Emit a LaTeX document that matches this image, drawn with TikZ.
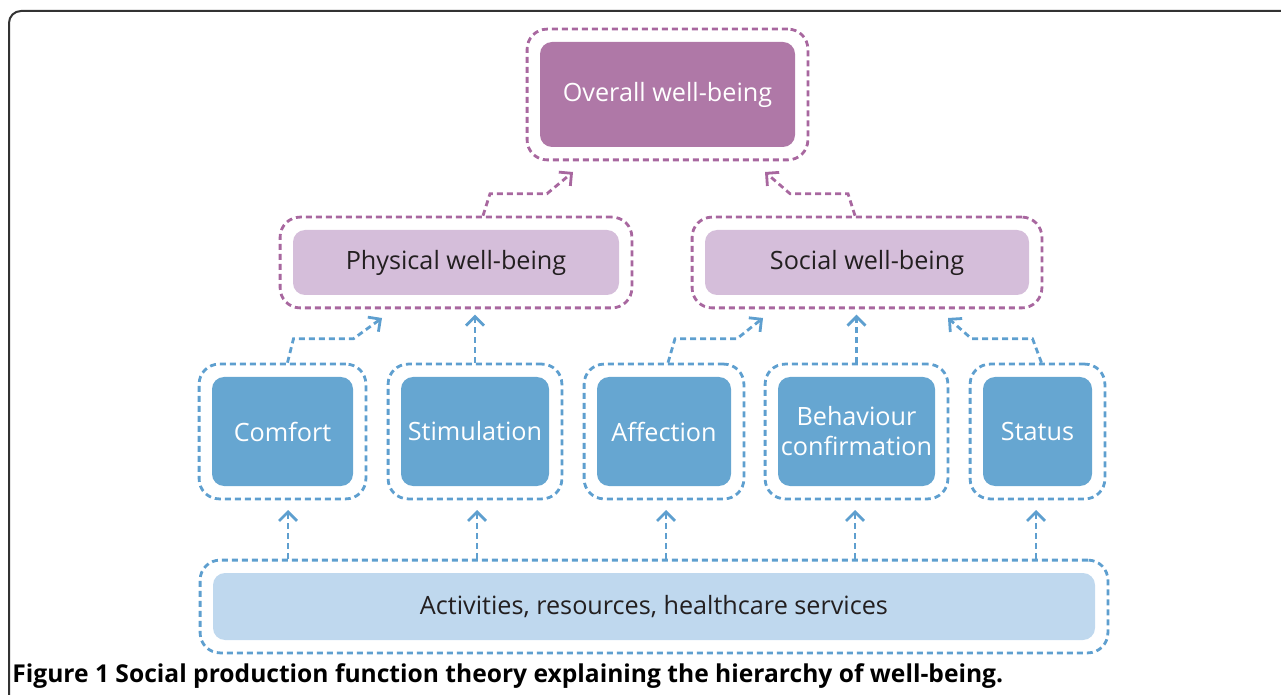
\documentclass[tikz,border=0pt]{standalone}
\usepackage{fontspec}
\setmainfont{Open Sans}
\usetikzlibrary{arrows.meta,fit}

\definecolor{plumdark}{HTML}{AF78A7}
\definecolor{plumlight}{HTML}{D5BEDA}
\definecolor{plumline}{HTML}{A8679F}
\definecolor{bluedark}{HTML}{66A6D1}
\definecolor{bluelight}{HTML}{BFD8EE}
\definecolor{blueline}{HTML}{5E9FCF}
\definecolor{inkdark}{HTML}{231F20}

\tikzset{
  box/.style={rounded corners=6pt,inner sep=0pt,align=center,font=\fontsize{12.6}{15}\selectfont},
  darkbox/.style={box,fill=#1,text=white},
  lightbox/.style={box,fill=#1,text=inkdark},
  frame/.style={draw=#1,line width=1.4pt,dash pattern=on 3pt off 2pt,rounded corners=10pt,inner sep=6.25pt},
  plink/.style={draw=plumline,line width=1.4pt,dash pattern=on 3pt off 2pt,-{Straight Barb[length=4.5pt,width=9pt]}},
  blink/.style={draw=blueline,line width=1.4pt,dash pattern=on 3pt off 2pt,-{Straight Barb[length=4.5pt,width=9pt]}}
}

\begin{document}
\begin{tikzpicture}[x=0.5pt,y=-0.5pt]
  \useasboundingbox (0,0) rectangle (1281,695);
  \draw[line width=1pt,draw=black!80,rounded corners=6pt] (9,760) -- (9,11) -- (1340,11);

  %% top
  \node[darkbox=plumdark,minimum width=127.5pt,minimum height=52.5pt] (overall) at (667.5,94.5) {Overall well-being};
  \node[frame=plumline,fit=(overall)] (overallF) {};

  %% middle
  \node[lightbox=plumlight,minimum width=163pt,minimum height=32.5pt] (phys) at (456,262.5) {Physical well-being};
  \node[lightbox=plumlight,minimum width=162pt,minimum height=32.5pt] (soc) at (867,262.5) {Social well-being};
  \node[frame=plumline,fit=(phys)] (physF) {};
  \node[frame=plumline,fit=(soc)] (socF) {};

  %% needs
  \node[darkbox=bluedark,minimum width=70.5pt,minimum height=54.5pt] (comfort) at (282.5,431.5) {Comfort};
  \node[darkbox=bluedark,minimum width=74pt,minimum height=54.5pt] (stim) at (475,431.5) {Stimulation};
  \node[darkbox=bluedark,minimum width=67pt,minimum height=54.5pt] (affect) at (664,431.5) {Affection};
  \node[darkbox=bluedark,minimum width=78.5pt,minimum height=54.5pt] (behav) at (856.5,431.5) {Behaviour\\confirmation};
  \node[darkbox=bluedark,minimum width=54.5pt,minimum height=54.5pt] (status) at (1037.5,431.5) {Status};
  \foreach \n in {comfort,stim,affect,behav,status}
    \node[frame=blueline,fit=(\n)] (\n F) {};

  %% bottom
  \node[lightbox=bluelight,minimum width=441pt,minimum height=33.5pt] (act) at (654,606.5) {Activities, resources, healthcare services};
  \node[frame=blueline,fit=(act)] (actF) {};

  %% arrow tips
  \coordinate (tOL) at (573,172);
  \coordinate (tOR) at (765,172);
  \coordinate (tPL) at (382,318);
  \coordinate (tSL) at (763,318);
  \coordinate (tSR) at (948,318);

  %% links up to overall
  \draw[plink] ([shift={(27,0)}]physF.north) -- ++(7,-22) -- ++(57,0) -- (tOL);
  \draw[plink] ([shift={(-12,0)}]socF.north) -- ++(-7,-22) -- ++(-58,0) -- (tOR);

  %% links up to physical / social
  \draw[blink] ([shift={(5,0)}]comfortF.north) -- ++(6,-24) -- ++(60,0) -- (tPL);
  \draw[blink] (stimF.north) -- ++(0,-48);
  \draw[blink] ([shift={(4,0)}]affectF.north) -- ++(7,-24) -- ++(62,0) -- (tSL);
  \draw[blink] (behavF.north) -- ++(0,-48);
  \draw[blink] ([shift={(4,0)}]statusF.north) -- ++(-9,-24) -- ++(-61,0) -- (tSR);

  %% links from activities
  \foreach \n/\x in {comfort/288,stim/477,affect/666,behav/855,status/1036}
    \draw[blink] (actF.north -| \x,0) -- (\x,510);

  %% caption
  \node[anchor=west,inner sep=0pt,text=black,font=\bfseries\fontsize{12.3}{14}\selectfont] (cap) at (12,676)
    {Figure 1 Social production function theory explaining the hierarchy of well-being.};
\end{tikzpicture}
\end{document}
